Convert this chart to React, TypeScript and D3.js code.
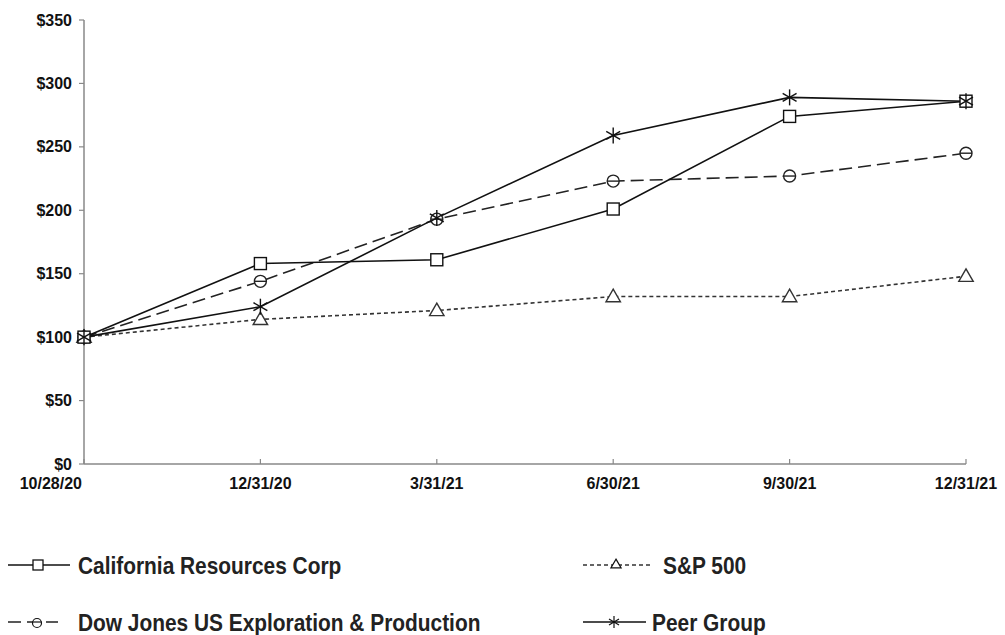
import React from "react";
import * as d3 from "d3";

const dates = ["10/28/20", "12/31/20", "3/31/21", "6/30/21", "9/30/21", "12/31/21"];
const crc = [100, 158, 161, 201, 274, 286];
const sp500 = [100, 114, 121, 132, 132, 148];
const dowJones = [100, 144, 193, 223, 227, 245];
const peerGroup = [100, 124, 194, 259, 289, 286];
const yTicks = [0, 50, 100, 150, 200, 250, 300, 350];

type Marker = "square" | "triangle" | "circle" | "star";
interface Series {
  name: string;
  values: number[];
  dash: string;
  marker: Marker;
  color: string;
}

const series: Series[] = [
  { name: "S&P 500", values: sp500, dash: "4,3", marker: "triangle", color: "#333" },
  { name: "Dow Jones US Exploration & Production", values: dowJones, dash: "13,6", marker: "circle", color: "#222" },
  { name: "California Resources Corp", values: crc, dash: "", marker: "square", color: "#111" },
  { name: "Peer Group", values: peerGroup, dash: "", marker: "star", color: "#111" },
];

const W = 1005;
const H = 635;
const left = 84;
const right = 966;
const top = 20;
const bottom = 464;

const x = d3.scalePoint<string>().domain(dates).range([left, right]);
const y = d3.scaleLinear().domain([0, 350]).range([bottom, top]);

function MarkerShape({ kind, cx, cy, color }: { kind: Marker; cx: number; cy: number; color: string }) {
  const sw = 1.4;
  if (kind === "square") {
    return <rect x={cx - 6} y={cy - 6} width={12} height={12} fill="white" stroke={color} strokeWidth={sw} />;
  }
  if (kind === "circle") {
    return (
      <g>
        <circle cx={cx} cy={cy} r={6} fill="white" stroke={color} strokeWidth={sw} />
        <line x1={cx - 6} x2={cx + 6} y1={cy} y2={cy} stroke={color} strokeWidth={sw} />
      </g>
    );
  }
  if (kind === "triangle") {
    const tri = d3.symbol().type(d3.symbolTriangle).size(90)();
    return <path d={tri ?? ""} transform={`translate(${cx},${cy + 1})`} fill="white" stroke={color} strokeWidth={sw} />;
  }
  const r = 8;
  return (
    <g stroke={color} strokeWidth={sw}>
      <line x1={cx} x2={cx} y1={cy - r} y2={cy + r} />
      <line x1={cx - r * 0.87} x2={cx + r * 0.87} y1={cy - r * 0.5} y2={cy + r * 0.5} />
      <line x1={cx - r * 0.87} x2={cx + r * 0.87} y1={cy + r * 0.5} y2={cy - r * 0.5} />
    </g>
  );
}

function LegendSample({ s, x0, x1, cy, mx }: { s: Series; x0: number; x1: number; cy: number; mx: number }) {
  const small: Record<Marker, JSX.Element> = {
    square: <rect x={mx - 5} y={cy - 5} width={10} height={10} fill="white" stroke="#111" strokeWidth={1.3} />,
    circle: (
      <g>
        <circle cx={mx} cy={cy + 1} r={4.5} fill="white" stroke="#111" strokeWidth={1.2} />
        <line x1={mx - 4.5} x2={mx + 4.5} y1={cy} y2={cy} stroke="#111" strokeWidth={1.2} />
      </g>
    ),
    triangle: (
      <path
        d={d3.symbol().type(d3.symbolTriangle).size(45)() ?? ""}
        transform={`translate(${mx},${cy})`}
        fill="white"
        stroke="#111"
        strokeWidth={1.2}
      />
    ),
    star: (
      <g stroke="#111" strokeWidth={1.2}>
        <line x1={mx} x2={mx} y1={cy - 6} y2={cy + 6} />
        <line x1={mx - 5} x2={mx + 5} y1={cy - 3} y2={cy + 3} />
        <line x1={mx - 5} x2={mx + 5} y1={cy + 3} y2={cy - 3} />
      </g>
    ),
  };
  return (
    <g>
      <line x1={x0} x2={x1} y1={cy} y2={cy} stroke={s.color} strokeWidth={1.4} strokeDasharray={s.dash} />
      {small[s.marker]}
    </g>
  );
}

export default function App() {
  const line = d3
    .line<number>()
    .x((_, i) => x(dates[i]) as number)
    .y((v) => y(v));

  const tickFont = "'Liberation Sans', Arial, sans-serif";
  // condensed look for the legend labels: bold sans squeezed horizontally
  const legendFont = "'Liberation Sans', Arial, sans-serif";
  const legendSqueeze = 0.87;
  const legendItems = [
    { s: series[2], lx0: 8, lx1: 70, mx: 38, tx: 78, cy: 565 },
    { s: series[1], lx0: 8, lx1: 58, mx: 37, tx: 78, cy: 622 },
    { s: series[0], lx0: 583, lx1: 650, mx: 616, tx: 663, cy: 565 },
    { s: series[3], lx0: 583, lx1: 646, mx: 614, tx: 652, cy: 622 },
  ];

  return (
    <svg width={W} height={H} style={{ position: "absolute", left: 0, top: 0, background: "white" }}>
      {/* y axis */}
      <line x1={left} x2={left} y1={top} y2={bottom} stroke="#888" strokeWidth={1.5} />
      {yTicks.map((t) => (
        <g key={t}>
          <line x1={left - 5} x2={left} y1={y(t)} y2={y(t)} stroke="#888" strokeWidth={1.2} />
          <text
            x={left - 12}
            y={y(t)}
            dy="0.35em"
            textAnchor="end"
            fontFamily={tickFont}
            fontWeight="bold"
            fontSize={16}
            fill="#111"
          >
            {`$${t}`}
          </text>
        </g>
      ))}
      {/* x axis */}
      <line x1={left} x2={right} y1={bottom} y2={bottom} stroke="#888" strokeWidth={1.5} />
      {dates.map((d, i) => (
        <g key={d}>
          <line x1={x(d)} x2={x(d)} y1={bottom} y2={bottom - 5} stroke="#888" strokeWidth={1.2} />
          <text
            x={i === 0 ? left - 2 : (x(d) as number)}
            y={bottom + 25}
            textAnchor={i === 0 ? "end" : "middle"}
            fontFamily={tickFont}
            fontWeight="bold"
            fontSize={16}
            fill="#111"
          >
            {d}
          </text>
        </g>
      ))}
      {/* series lines */}
      {series.map((s) => (
        <path
          key={s.name}
          d={line(s.values) ?? ""}
          fill="none"
          stroke={s.color}
          strokeWidth={1.6}
          strokeDasharray={s.dash}
        />
      ))}
      {/* markers */}
      {series.map((s) =>
        s.values.map((v, i) => (
          <MarkerShape key={`${s.name}-${i}`} kind={s.marker} cx={x(dates[i]) as number} cy={y(v)} color={s.color} />
        ))
      )}
      {/* legend */}
      {legendItems.map((it) => (
        <g key={it.s.name}>
          <LegendSample s={it.s} x0={it.lx0} x1={it.lx1} cy={it.cy} mx={it.mx} />
          <text
            transform={`translate(${it.tx},${it.cy}) scale(${legendSqueeze},1)`}
            dy="0.36em"
            fontFamily={legendFont}
            fontWeight="bold"
            fontSize={24}
            fill="#222"
          >
            {it.s.name}
          </text>
        </g>
      ))}
    </svg>
  );
}
